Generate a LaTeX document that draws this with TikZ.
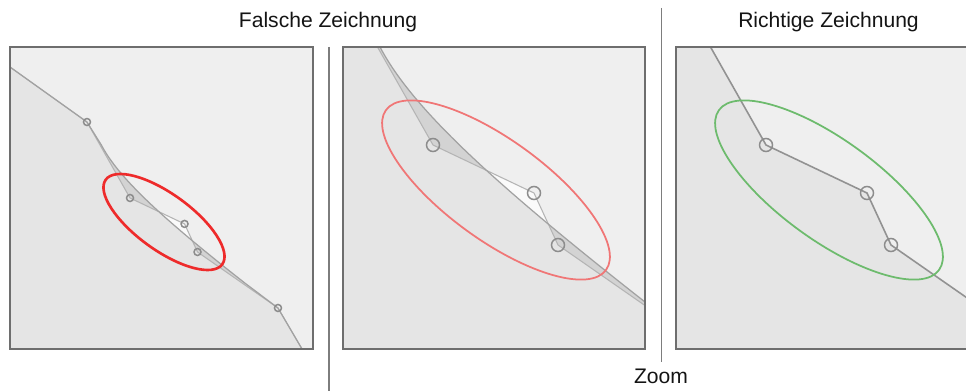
\documentclass[tikz,border=0pt]{standalone}
\usepackage{fontspec}
\setmainfont{Liberation Sans}
\usetikzlibrary{positioning}
\definecolor{zoomBg}{HTML}{EFEFEF}
\definecolor{zoomUnder}{HTML}{E5E5E5}
\definecolor{zoomGap}{HTML}{D3D3D3}
\definecolor{zoomGlare}{HTML}{FAFAFA}
\definecolor{zoomFrame}{HTML}{6E6E6E}
\definecolor{zoomCurve}{HTML}{A2A2A2}
\definecolor{zoomPoly}{HTML}{B4B4B4}
\definecolor{zoomPoint}{HTML}{8C8C8C}
\definecolor{zoomWrong}{HTML}{EE2B2B}
\definecolor{zoomWrongSoft}{HTML}{F07676}
\definecolor{zoomRight}{HTML}{6DBB6D}
% Kurve und Kontrollpolygon, in Koordinaten des mittleren Ausschnitts
\newcommand\kurvenpfad{(150,-141) -- (210.7,-97.6) -- (353.3,4.3) -- (380,47)
  .. controls (412,108) and (492,182) .. (645,302) -- (707,348.7) -- (751.5,424.6) -- (795.5,500)}
\newcommand\polygonpfad{(150,-141) -- (210.7,-97.6) -- (353.3,4.3) -- (433,145)
  -- (534,193) -- (558,245) -- (707,348.7) -- (751.5,424.6) -- (795.5,500)}
\newcommand\kontrollpunkte{%
  \foreach \p in {(353.3,4.3),(433,145),(534,193),(558,245),(707,348.7)}
    \draw[ctrlpoint] \p circle[radius=6.5];}
\newcommand\falschinhalt{%
  \fill[zoomGlare] \polygonpfad -- (150,500) -- cycle;
  \fill[zoomGap] \kurvenpfad -- (150,500) -- cycle;
  \begin{scope}
    \clip \kurvenpfad -- (150,500) -- cycle;
    \fill[zoomUnder] \polygonpfad -- (150,500) -- cycle;
  \end{scope}
  \draw[ctrlpoly] \polygonpfad;
  \draw[curveline] \kurvenpfad;
  \kontrollpunkte}
\tikzset{
  zoomfig/.style={
    x=0.02cm, y=-0.02cm,
    every node/.append style={font=\fontsize{12}{14}\selectfont, text=black!92},
  },
  panelframe/.style={draw=zoomFrame, line width=1.1pt},
  divider/.style={draw=zoomFrame!90, line width=0.75pt},
  curveline/.style={draw=zoomCurve, line width=0.7pt},
  ctrlpoly/.style={draw=zoomPoly, line width=0.6pt},
  rightpoly/.style={draw=zoomCurve!90!black, line width=0.9pt},
  ctrlpoint/.style={draw=zoomPoint, line width=0.85pt},
  markwrong/.style={draw=zoomWrong, line width=1.5pt},
  markwrongzoom/.style={draw=zoomWrongSoft, line width=1pt},
  markright/.style={draw=zoomRight, line width=1pt},
}

\begin{document}
\begin{tikzpicture}[zoomfig]
  \useasboundingbox (0,0) rectangle (966,391);
  \node[anchor=base] (FalschTitel) at (328,28) {Falsche Zeichnung};
  \node[anchor=base] (RichtigTitel) at (828.5,28) {Richtige Zeichnung};
  \coordinate (TrennerOben) at (661.5,8);
  \coordinate (TrennerUnten) at (661.5,362);
  \node[anchor=base] (ZoomLabel) at (661,383) {Zoom};
  \draw[divider] (329,47) -- (329,391);
  \draw[divider] (TrennerOben) -- (TrennerUnten);
  % Falsch, Uebersicht
  \fill[zoomBg] (10,47) rectangle (313,349);
  \begin{scope}
    \clip (10,47) rectangle (313,349);
    \begin{scope}[shift={(-103.8,119.7)}, scale=0.54]
      \falschinhalt
    \end{scope}
  \end{scope}
  \draw[markwrong] (164,222) circle[x radius=72, y radius=28, rotate=-36];
  \draw[panelframe] (10,47) rectangle (313,349);
  % Falsch, vergroessert
  \fill[zoomBg] (343,47) rectangle (645,349);
  \begin{scope}
    \clip (343,47) rectangle (645,349);
    \falschinhalt
  \end{scope}
  \draw[markwrongzoom] (496,190) circle[x radius=136, y radius=50, rotate=-36];
  \draw[panelframe] (343,47) rectangle (645,349);
  % Richtig, vergroessert
  \fill[zoomBg] (676,47) rectangle (979,349);
  \begin{scope}
    \clip (676,47) rectangle (979,349);
    \begin{scope}[shift={(333,0)}]
      \fill[zoomUnder] \polygonpfad -- (150,500) -- cycle;
      \draw[rightpoly] \polygonpfad;
      \kontrollpunkte
    \end{scope}
  \end{scope}
  \draw[markright] (829,190) circle[x radius=136, y radius=50, rotate=-36];
  \draw[panelframe] (676,47) rectangle (979,349);
\end{tikzpicture}
\end{document}
